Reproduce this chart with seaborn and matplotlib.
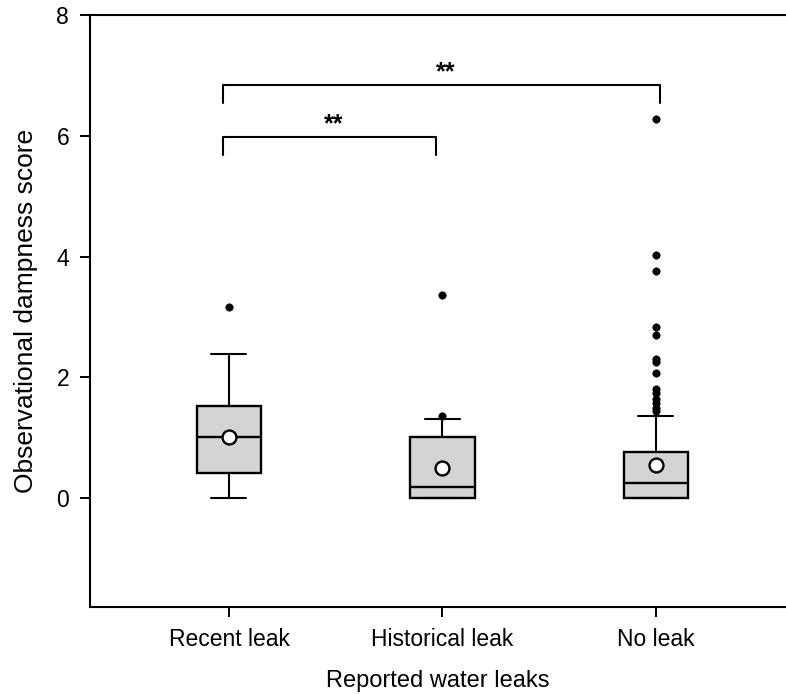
import numpy as np
import pandas as pd
import matplotlib
matplotlib.use("Agg")
import matplotlib.pyplot as plt
import seaborn as sns

# ---- data ----
categories = ["Recent leak", "Historical leak", "No leak"]
whisker_low = [0.0, 0.0, 0.0]
q1 = [0.42, 0.0, 0.0]
median = [1.01, 0.18, 0.25]
q3 = [1.52, 1.01, 0.77]
whisker_high = [2.38, 1.31, 1.36]
means = [1.02, 0.50, 0.55]
outliers_recent = [3.17]
outliers_historical = [3.37, 1.37]
outliers_noleak = [6.28, 4.02, 3.77, 2.83, 2.70, 2.31, 2.26, 2.07, 1.81,
                   1.74, 1.65, 1.57, 1.49, 1.45]
yticks = [0, 2, 4, 6, 8]
sig_pairs = [("Recent leak", "No leak"), ("Recent leak", "Historical leak")]
sig_labels = ["**", "**"]
sig_heights = [6.84, 5.98]

sns.set_theme(style="ticks")
plt.rcParams["font.family"] = ["Liberation Sans", "DejaVu Sans"]
plt.rcParams["text.color"] = "black"
plt.rcParams["axes.labelcolor"] = "black"
plt.rcParams["xtick.color"] = "black"
plt.rcParams["ytick.color"] = "black"

fig = plt.figure(figsize=(7.86, 6.94), dpi=100)
ax = fig.add_axes([90 / 786, 87 / 694, 1 - 90 / 786, (607 - 15) / 694])

pos = np.arange(len(categories))
stats = []
for i, c in enumerate(categories):
    stats.append(dict(label=c, whislo=whisker_low[i], q1=q1[i], med=median[i],
                      q3=q3[i], whishi=whisker_high[i], fliers=[]))

ax.bxp(stats, positions=pos, widths=0.30, capwidths=0.164, patch_artist=True,
       showfliers=False, showmeans=False,
       boxprops=dict(facecolor="#d4d4d4", edgecolor="black", linewidth=1.7),
       medianprops=dict(color="black", linewidth=1.7),
       whiskerprops=dict(color="black", linewidth=1.5),
       capprops=dict(color="black", linewidth=1.5))

out_df = pd.DataFrame({
    "x": [0] * len(outliers_recent) + [1] * len(outliers_historical) + [2] * len(outliers_noleak),
    "y": outliers_recent + outliers_historical + outliers_noleak,
})
sns.scatterplot(data=out_df, x="x", y="y", ax=ax, color="black", s=28,
                edgecolor="black", linewidth=0.5, zorder=4, legend=False)

mean_df = pd.DataFrame({"x": pos, "y": means})
sns.scatterplot(data=mean_df, x="x", y="y", ax=ax, color="white", s=100,
                edgecolor="black", linewidth=1.7, zorder=5, legend=False)

# significance brackets
for (a, b), lab, h in zip(sig_pairs, sig_labels, sig_heights):
    xa = categories.index(a) - 0.03
    xb = categories.index(b) - 0.03 + (0.05 if b == "No leak" else 0.0)
    ax.plot([xa, xa, xb, xb], [h - 0.30, h, h, h - 0.30], color="black",
            linewidth=1.5, solid_joinstyle="round")
    ax.text((xa + xb) / 2 + 0.02, h + 0.02, lab, ha="center", va="bottom",
            fontsize=18, fontweight="bold")

ax.set_xlim(-0.651, 2.609)
ax.set_ylim(-1.8, 8)
ax.set_yticks(yticks)
ax.set_xticks(pos)
ax.set_xticklabels(categories)
ax.set_xlabel("Reported water leaks", fontsize=17, labelpad=14)
ax.set_ylabel("Observational dampness score", fontsize=19, labelpad=13)
ax.tick_params(axis="both", labelsize=16.5, length=7, width=1.4, color="black",
               labelcolor="black", direction="out")
ax.tick_params(axis="x", pad=8)
ax.tick_params(axis="y", pad=8)
for s in ["left", "bottom", "top"]:
    ax.spines[s].set_linewidth(1.5)
    ax.spines[s].set_color("black")
ax.spines["right"].set_visible(False)

fig.savefig("out.png", dpi=100)
